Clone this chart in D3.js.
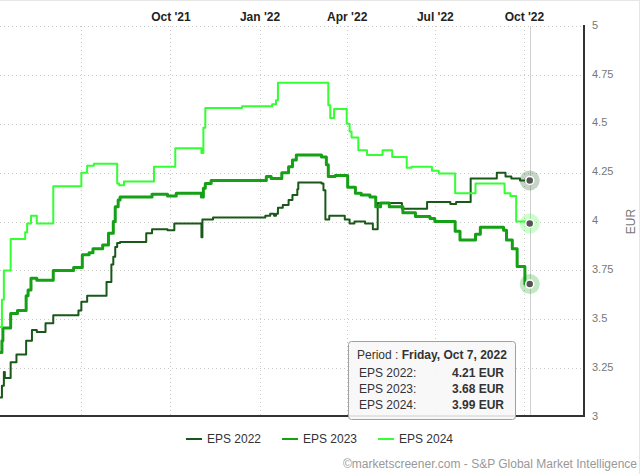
<!DOCTYPE html>
<html>
<head>
<meta charset="utf-8">
<script src="https://cdn.jsdelivr.net/npm/d3@7/dist/d3.min.js"></script>
<style>
  html, body { margin: 0; padding: 0; background: #fff; }
  svg { display: block; font-family: "Liberation Sans", Arial, sans-serif; }
</style>
</head>
<body>
<div id="chart"></div>
<script>
// ---------- data ----------
const seriesNames = ["EPS 2022", "EPS 2023", "EPS 2024"];
const seriesColors = ["#185818", "#15a015", "#33ff33"];

const eps2022Dates = ["2021-04-08","2021-04-10","2021-04-12","2021-04-13","2021-04-19","2021-04-25","2021-05-05","2021-05-11","2021-05-16","2021-05-25","2021-06-02","2021-06-28","2021-07-01","2021-07-07","2021-07-27","2021-08-01","2021-08-03","2021-08-05","2021-08-07","2021-08-10","2021-09-06","2021-09-12","2021-09-28","2021-10-05","2021-11-02","2021-11-03","2021-11-14","2022-01-07","2022-01-12","2022-01-16","2022-01-18","2022-01-20","2022-01-25","2022-01-31","2022-02-04","2022-02-09","2022-02-10","2022-03-06","2022-03-08","2022-03-10","2022-03-14","2022-03-30","2022-04-04","2022-04-09","2022-04-20","2022-04-28","2022-05-03","2022-05-28","2022-06-23","2022-07-17","2022-07-23","2022-08-07","2022-09-03","2022-09-12","2022-09-18","2022-09-27","2022-10-07"];
const eps2022Values = [3.10,3.16,3.23,3.20,3.28,3.32,3.39,3.445,3.435,3.48,3.52,3.545,3.59,3.62,3.69,3.78,3.82,3.87,3.89,3.895,3.94,3.96,3.955,3.99,3.92,4.01,4.02,4.03,4.04,4.03,4.04,4.07,4.085,4.11,4.135,4.165,4.20,4.195,4.16,4.01,4.03,4.01,3.99,4.00,3.99,3.96,4.095,4.065,4.10,4.09,4.10,4.22,4.25,4.23,4.22,4.21,4.21];

const eps2023Dates = ["2021-04-08","2021-04-10","2021-04-11","2021-04-19","2021-04-26","2021-05-05","2021-05-07","2021-05-10","2021-05-16","2021-06-02","2021-06-23","2021-07-02","2021-07-09","2021-07-13","2021-07-23","2021-07-29","2021-08-03","2021-08-05","2021-08-08","2021-08-10","2021-09-12","2021-09-28","2021-10-07","2021-11-02","2021-11-04","2021-11-06","2021-11-12","2022-01-08","2022-01-13","2022-01-24","2022-01-31","2022-02-04","2022-02-08","2022-03-06","2022-03-11","2022-03-13","2022-03-20","2022-04-02","2022-04-10","2022-04-16","2022-04-25","2022-05-01","2022-05-06","2022-05-15","2022-05-29","2022-06-11","2022-06-26","2022-07-01","2022-07-22","2022-07-27","2022-08-12","2022-08-17","2022-09-10","2022-09-13","2022-09-19","2022-09-24","2022-10-02","2022-10-07"];
const eps2023Values = [3.33,3.39,3.455,3.53,3.545,3.62,3.65,3.71,3.70,3.75,3.765,3.83,3.84,3.86,3.88,3.94,4.00,4.075,4.11,4.125,4.14,4.13,4.145,4.125,4.17,4.195,4.21,4.23,4.22,4.25,4.28,4.315,4.34,4.33,4.29,4.23,4.235,4.175,4.145,4.135,4.125,4.075,4.095,4.075,4.045,4.025,4.015,4.00,3.95,3.905,3.935,3.97,3.955,3.905,3.86,3.77,3.68,3.68];

const eps2024Dates = ["2021-04-08","2021-04-10","2021-04-12","2021-04-19","2021-05-04","2021-05-06","2021-05-10","2021-05-16","2021-06-02","2021-07-01","2021-07-07","2021-07-14","2021-08-07","2021-08-09","2021-08-14","2021-09-14","2021-10-06","2021-11-02","2021-11-04","2021-11-06","2021-12-14","2022-01-14","2022-01-18","2022-01-20","2022-03-13","2022-03-15","2022-03-19","2022-04-01","2022-04-04","2022-04-06","2022-04-13","2022-04-22","2022-05-08","2022-05-18","2022-06-02","2022-06-07","2022-06-28","2022-07-05","2022-07-22","2022-08-12","2022-09-11","2022-09-17","2022-09-23","2022-10-07"];
const eps2024Values = [3.46,3.60,3.75,3.91,3.945,3.99,4.03,3.99,4.18,4.25,4.285,4.295,4.195,4.185,4.205,4.28,4.375,4.35,4.48,4.58,4.59,4.60,4.62,4.71,4.595,4.53,4.575,4.50,4.46,4.43,4.365,4.34,4.365,4.33,4.275,4.28,4.26,4.245,4.145,4.195,4.145,4.13,4.00,3.99];

const gridDates = ["2021-07-01","2021-10-01","2022-01-01","2022-04-01","2022-07-01","2022-10-01"];
const xTickDates = ["2021-10-01","2022-01-01","2022-04-01","2022-07-01","2022-10-01"];
const xTickLabels = ["Oct '21","Jan '22","Apr '22","Jul '22","Oct '22"];
const yTicks = [3, 3.25, 3.5, 3.75, 4, 4.25, 4.5, 4.75, 5];
const yTickLabels = ["3","3.25","3.5","3.75","4","4.25","4.5","4.75","5"];
const xDomain = ["2021-04-08", "2022-12-01"];
const tooltipDate = "2022-10-07";
const tooltipTitle = "Friday, Oct 7, 2022";
const tooltipValues = ["4.21 EUR", "3.68 EUR", "3.99 EUR"];
const unitLabel = "EUR";
const creditText = "©marketscreener.com - S&P Global Market Intelligence";

// ---------- setup ----------
const W = 640, H = 474;
const parse = d3.utcParse("%Y-%m-%d");
const plotLeft = 0, plotRight = 583, plotTop = 26, plotBottom = 417;

const x = d3.scaleUtc().domain(xDomain.map(parse)).range([plotLeft, plotRight]);
const y = d3.scaleLinear().domain([3, 5]).range([plotBottom, plotTop]);

const svg = d3.select("#chart").append("svg").attr("width", W).attr("height", H);

// faint container border (top/right)
svg.append("line").attr("x1", 0).attr("x2", W).attr("y1", 0.5).attr("y2", 0.5).attr("stroke", "#e6e6e6");
svg.append("line").attr("x1", W - 0.5).attr("x2", W - 0.5).attr("y1", 0).attr("y2", H).attr("stroke", "#e6e6e6");

// horizontal grid
svg.append("g").selectAll("line").data(yTicks.filter(v => v > 3)).join("line")
  .attr("x1", plotLeft).attr("x2", plotRight)
  .attr("y1", d => Math.round(y(d)) + 0.5).attr("y2", d => Math.round(y(d)) + 0.5)
  .attr("stroke", "#c8c8c8").attr("stroke-dasharray", "1,3");

// vertical grid
svg.append("g").selectAll("line").data(gridDates.map(parse)).join("line")
  .attr("x1", d => Math.round(x(d)) + 0.5).attr("x2", d => Math.round(x(d)) + 0.5)
  .attr("y1", plotTop).attr("y2", plotBottom)
  .attr("stroke", "#c8c8c8").attr("stroke-dasharray", "1,3");

// crosshair
const tx = x(parse(tooltipDate));
svg.append("line").attr("x1", Math.round(tx) + 0.5).attr("x2", Math.round(tx) + 0.5)
  .attr("y1", plotTop).attr("y2", plotBottom).attr("stroke", "#d0d0d0").attr("stroke-width", 1);

// top axis labels
const xAxis = d3.axisTop(x).tickValues(xTickDates.map(parse))
  .tickFormat((d, i) => xTickLabels[i]).tickSize(0).tickPadding(0);
const gx = svg.append("g").attr("transform", "translate(0,21)").call(xAxis);
gx.select(".domain").remove();
gx.selectAll("text").attr("font-size", 12).attr("font-weight", "bold").attr("fill", "#222")
  .attr("font-family", "Liberation Sans, Arial, sans-serif");

// right axis
const yAxis = d3.axisRight(y).tickValues(yTicks).tickFormat((d, i) => yTickLabels[i]).tickSize(0).tickPadding(9);
const gy = svg.append("g").attr("transform", `translate(${plotRight},0)`).call(yAxis);
gy.select(".domain").remove();
gy.selectAll("text").attr("font-size", 11).attr("fill", "#777").attr("dy", "0.2em")
  .attr("font-family", "Liberation Sans, Arial, sans-serif");

// axis lines
svg.append("line").attr("x1", plotRight + 1).attr("x2", plotRight + 1).attr("y1", plotTop - 1).attr("y2", plotBottom)
  .attr("stroke", "#333").attr("stroke-width", 2);
svg.append("line").attr("x1", plotLeft).attr("x2", plotRight + 2).attr("y1", plotBottom - 1).attr("y2", plotBottom - 1)
  .attr("stroke", "#333").attr("stroke-width", 2);

// unit label
svg.append("text").attr("transform", `translate(635,${y(4)}) rotate(-90)`)
  .attr("text-anchor", "middle").attr("font-size", 12).attr("fill", "#777").text(unitLabel);

// lines
const series = [
  { dates: eps2022Dates, values: eps2022Values, width: 2 },
  { dates: eps2023Dates, values: eps2023Values, width: 3 },
  { dates: eps2024Dates, values: eps2024Values, width: 2 }
];
const line = d3.line().x(d => x(d[0])).y(d => y(d[1])).curve(d3.curveStepAfter);
svg.append("defs").append("clipPath").attr("id", "clip").append("rect")
  .attr("x", plotLeft).attr("y", plotTop).attr("width", plotRight - plotLeft).attr("height", plotBottom - plotTop);
const gl = svg.append("g").attr("clip-path", "url(#clip)");
series.forEach((s, i) => {
  const pts = s.dates.map((d, j) => [parse(d), s.values[j]]);
  gl.append("path").attr("d", line(pts)).attr("fill", "none")
    .attr("stroke", seriesColors[i]).attr("stroke-width", s.width)
    .attr("stroke-linejoin", "round").attr("stroke-linecap", "butt");
});

// end markers
series.forEach((s, i) => {
  const v = s.values[s.values.length - 1];
  const cx = tx, cy = y(v);
  svg.append("circle").attr("cx", cx).attr("cy", cy).attr("r", 10).attr("fill", seriesColors[i]).attr("fill-opacity", 0.25);
  svg.append("circle").attr("cx", cx).attr("cy", cy).attr("r", 4).attr("fill", "#555").attr("stroke", "#fff").attr("stroke-width", 1.5);
});

// tooltip
const tt = svg.append("g").attr("transform", "translate(348.5,341.5)");
tt.append("rect").attr("width", 167).attr("height", 78).attr("rx", 3)
  .attr("fill", "#f7f7f7").attr("fill-opacity", 0.9).attr("stroke", "#a0a0a0").attr("stroke-width", 1);
const t0 = tt.append("text").attr("x", 8.5).attr("y", 17.5).attr("font-size", 12).attr("fill", "#333");
t0.append("tspan").text("Period : ");
t0.append("tspan").attr("font-weight", "bold").text(tooltipTitle);
seriesNames.forEach((n, i) => {
  tt.append("text").attr("x", 10.5).attr("y", 35.5 + i * 16).attr("font-size", 12).attr("fill", "#333").text(n + ":");
  tt.append("text").attr("x", 155.5).attr("y", 35.5 + i * 16).attr("font-size", 12).attr("font-weight", "bold")
    .attr("fill", "#333").attr("text-anchor", "end").text(tooltipValues[i]);
});

// legend
const legendX = [186, 282, 378];
seriesNames.forEach((n, i) => {
  const g = svg.append("g").attr("transform", `translate(${legendX[i]},439)`);
  g.append("line").attr("x1", 0).attr("x2", 16).attr("y1", 0).attr("y2", 0)
    .attr("stroke", seriesColors[i]).attr("stroke-width", 2);
  g.append("text").attr("x", 21).attr("y", 4).attr("font-size", 12).attr("fill", "#333").text(n);
});

// credit
svg.append("text").attr("x", 637).attr("y", 468).attr("text-anchor", "end")
  .attr("font-size", 12).attr("fill", "#999").text(creditText);
</script>
</body>
</html>
